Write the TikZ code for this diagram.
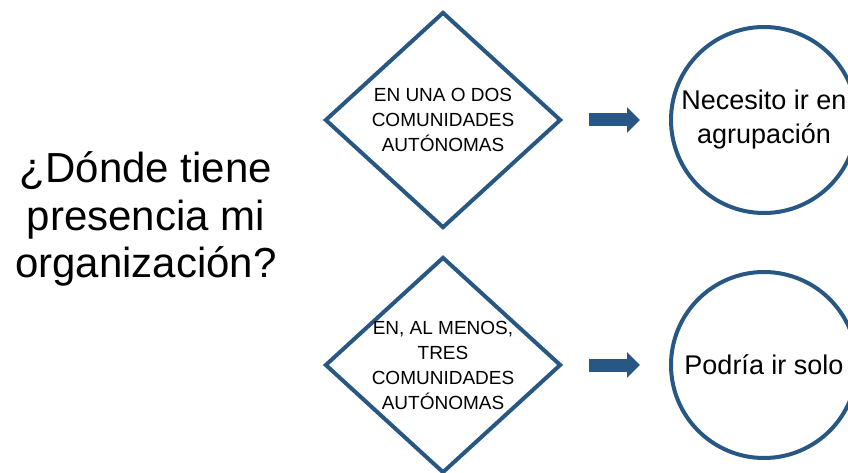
\documentclass[tikz,border=0pt]{standalone}
\usepackage{fontspec}
\setmainfont{Liberation Sans}
\usepackage{tikz}
\usetikzlibrary{positioning,shapes.geometric,arrows.meta}
\definecolor{dblue}{HTML}{285784}

\begin{document}
\begin{tikzpicture}[x=1pt,y=-1pt,
  decision/.style={diamond, draw=dblue, line width=4pt, minimum width=236pt, minimum height=216pt, inner sep=0pt},
  dtext/.style={align=center, font=\fontsize{19}{25}\selectfont, inner sep=0pt},
  answer/.style={circle, draw=dblue, line width=4pt, minimum size=186pt, inner sep=0pt, align=center, font=\fontsize{27}{34}\selectfont},
  fatarrow/.style={draw=dblue, line width=13pt, -{Triangle[length=13pt,width=25pt]}}]
\useasboundingbox (0,0) rectangle (848,473);

  % Define nodes
\node[align=center, font=\fontsize{42}{47.5}\selectfont] (quest) at (146,219) {¿Dónde tiene\\presencia mi\\organización?};
\node[decision] (q1) at (443,120) {};
\node[decision, below=25pt of q1] (q2) {};
\node[dtext] (t1) at (q1) {EN UNA O DOS\\COMUNIDADES\\AUTÓNOMAS};
\node[dtext] (t2) at (q2) {EN, AL MENOS,\\TRES\\COMUNIDADES\\AUTÓNOMAS};
\node[answer, right=106pt of q1] (a1) {Necesito ir en\\agrupación};
\node[answer, right=106pt of q2] (a2) {Podría ir solo};

  % Connect the nodes
\draw[fatarrow] ([xshift=26pt]q1.east) -- ([xshift=-29pt]a1.west);
\draw[fatarrow] ([xshift=26pt]q2.east) -- ([xshift=-29pt]a2.west);

\end{tikzpicture}
\end{document}
